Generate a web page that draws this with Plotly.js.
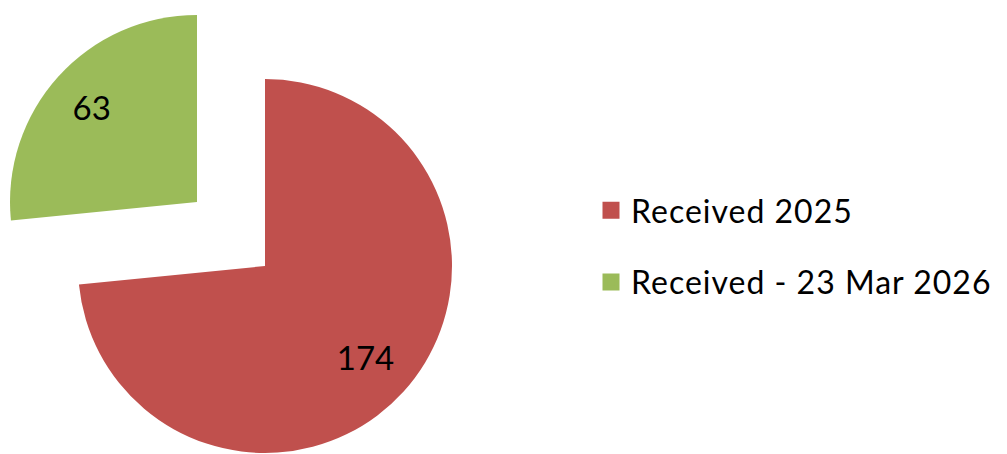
<!DOCTYPE html>
<html><head><meta charset="utf-8">
<script src="https://cdn.plot.ly/plotly-3.0.1.min.js"></script>
<style>html,body{margin:0;padding:0;background:#fff;overflow:hidden}#chart{width:1007px;height:454px}
#chart .legendtext{letter-spacing:1px}
#chart g.legend g.scrollbox{clip-path:none !important}</style>
</head><body><div id="chart"></div>
<script>
// ---- data ----
const categories = ['Received 2025', 'Received - 23 Mar 2026'];
const counts = [174, 63];
const sliceColors = ['#C0504D', '#9BBB59'];

// ---- layout constants ----
const W = 1007, H = 454;
const R = 187;
const mainCentre = [265, 266];    // pixel centre of the unpulled pie
const pulledCentre = [197, 202];  // pixel centre of the exploded slice
const FONT = 'Lato, "Open Sans", sans-serif';
const CLEAR = 'rgba(0,0,0,0)';

function domainFor(c, r) {
  return { x: [(c[0] - r) / W, (c[0] + r) / W], y: [Math.max(0, (H - c[1] - r) / H), (H - c[1] + r) / H] };
}

function fillTrace(idx, centre) {
  return {
    type: 'pie', labels: categories, values: counts, sort: false,
    direction: 'clockwise', rotation: 0, domain: domainFor(centre, R),
    marker: { colors: categories.map((_, i) => i === idx ? sliceColors[i] : CLEAR), line: { width: 0 } },
    textposition: 'none', showlegend: false, hoverinfo: 'skip'
  };
}
function textTrace(idx, centre, hole) {
  return {
    type: 'pie', labels: categories, values: counts, sort: false,
    direction: 'clockwise', rotation: 0, domain: domainFor(centre, R), hole: hole,
    marker: { colors: categories.map(() => CLEAR), line: { width: 0 } },
    texttemplate: categories.map((_, i) => i === idx ? '%{value}' : ''),
    textposition: 'inside', insidetextorientation: 'horizontal',
    textfont: { family: FONT, size: 33, color: '#000' },
    showlegend: false, hoverinfo: 'skip'
  };
}

const legendTraces = categories.map((name, i) => ({
  type: 'bar', x: [name], y: [counts[i]], name: name,
  legendgroup: 'g' + i, xaxis: 'x', yaxis: 'y', hoverinfo: 'skip',
  marker: { color: sliceColors[i], line: { color: sliceColors[i], width: 5 } }
}));

const data = [
  fillTrace(0, mainCentre),
  fillTrace(1, pulledCentre),
  textTrace(0, mainCentre, 0.45),
  textTrace(1, pulledCentre, 0.52)
].concat(legendTraces);

const layout = {
  width: W, height: H, autosize: false,
  margin: { l: 0, r: 0, t: 0, b: 0, pad: 0 },
  paper_bgcolor: '#fff', plot_bgcolor: CLEAR,
  showlegend: true,
  legend: {
    x: 591 / W, y: 1 - 183 / H, xanchor: 'left', yanchor: 'top',
    font: { family: FONT, size: 32, color: '#000' },
    bgcolor: CLEAR, borderwidth: 0, tracegroupgap: 27, itemclick: false, itemdoubleclick: false
  },
  xaxis: { visible: false, domain: [0.99, 1], fixedrange: true },
  yaxis: { visible: false, domain: [0.99, 1], range: [-20, -10], fixedrange: true },
  hovermode: false
};

Plotly.newPlot('chart', data, layout, { staticPlot: true, displayModeBar: false });
</script>
</body></html>
